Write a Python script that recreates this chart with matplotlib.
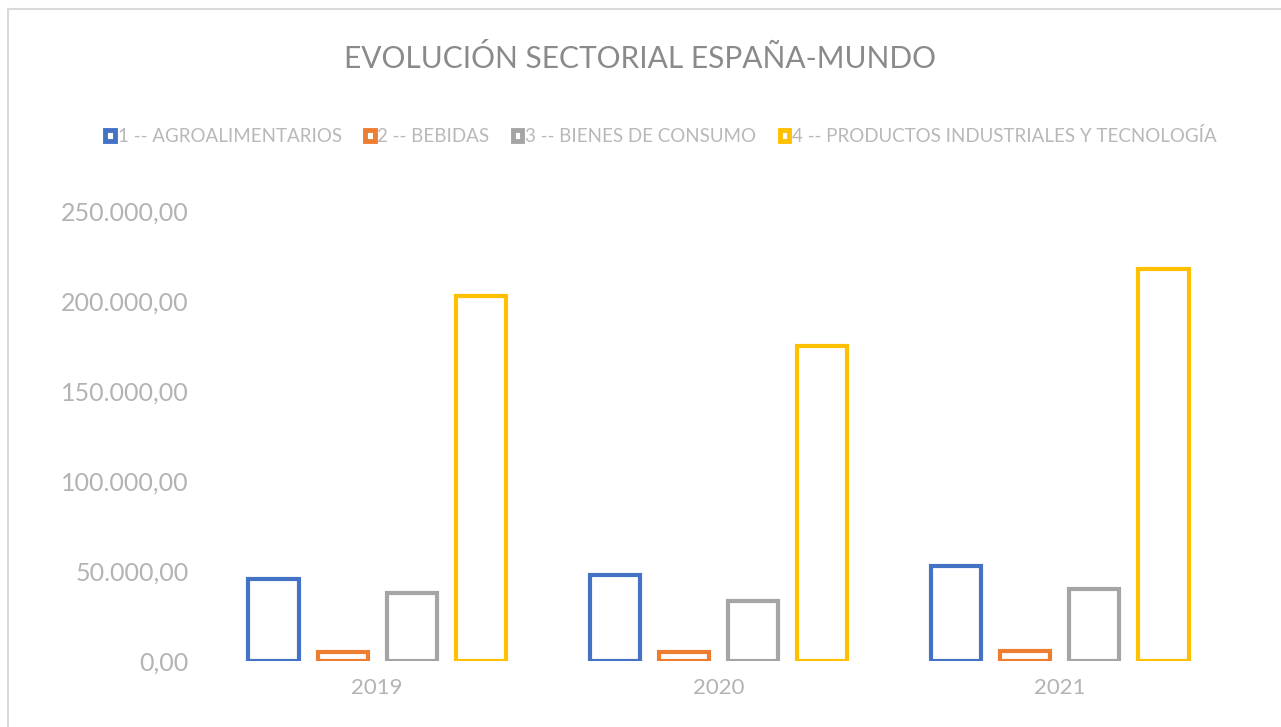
import matplotlib
matplotlib.use("Agg")
import matplotlib.pyplot as plt
from matplotlib.patches import Rectangle
from matplotlib.ticker import FuncFormatter
import numpy as np

years = ["2019", "2020", "2021"]
series_names = [
    "1 -- AGROALIMENTARIOS",
    "2 -- BEBIDAS",
    "3 -- BIENES DE CONSUMO",
    "4 -- PRODUCTOS INDUSTRIALES Y TECNOLOGÍA",
]
agro = [45700, 47800, 52800]
bebidas = [5300, 5000, 5700]
consumo = [37800, 33650, 40350]
industria = [202600, 175200, 217950]
colors = ["#4472c4", "#ed7d31", "#a5a5a5", "#ffc000"]

plt.rcParams["font.family"] = ["Lato", "DejaVu Sans"]

fig = plt.figure(figsize=(12.81, 7.27), dpi=100)
ax = fig.add_axes([0.1612, 0.0901, 0.7994, 0.6197])

# marco del grafico
fig.patches.append(Rectangle((8 / 1281, -0.05), 1.2, (727 - 9) / 727 + 0.05,
                             transform=fig.transFigure, fill=False,
                             edgecolor="#d9d9d9", linewidth=1.5))

x = np.arange(len(years))
slot = 0.2024
width = 0.147
for i, (vals, name) in enumerate(zip([agro, bebidas, consumo, industria], series_names)):
    ax.bar(x + (i - 1.5) * slot, vals, width, facecolor="white",
           edgecolor=colors[i], linewidth=3, label=name)

ax.set_xlim(-0.5, 2.5)
ax.set_ylim(0, 250000)
ax.set_yticks(np.arange(0, 250001, 50000))
ax.yaxis.set_major_formatter(FuncFormatter(
    lambda v, p: f"{v:,.2f}".replace(",", "X").replace(".", ",").replace("X", ".")))
ax.set_xticks(x)
ax.set_xticklabels(years)
ax.tick_params(axis="both", length=0, colors="#b3b3b3")
ax.tick_params(axis="y", pad=13, labelsize=18)
ax.tick_params(axis="x", pad=12, labelsize=16)
for s in ax.spines.values():
    s.set_visible(False)

fig.text(0.5, 0.92, "EVOLUCIÓN SECTORIAL ESPAÑA-MUNDO", ha="center", va="center",
         fontsize=21.5, color="#8a8a8a")

leg = fig.legend(loc="center", bbox_to_anchor=(0.516, 0.813), ncol=4, frameon=False,
                 handlelength=0.5, handleheight=0.5, handletextpad=0.15,
                 columnspacing=1.25, fontsize=13.5)
for t in leg.get_texts():
    t.set_color("#b8b8b8")
for p in leg.get_patches():
    p.set_linewidth(3.5)

fig.savefig("out.png", dpi=100)
